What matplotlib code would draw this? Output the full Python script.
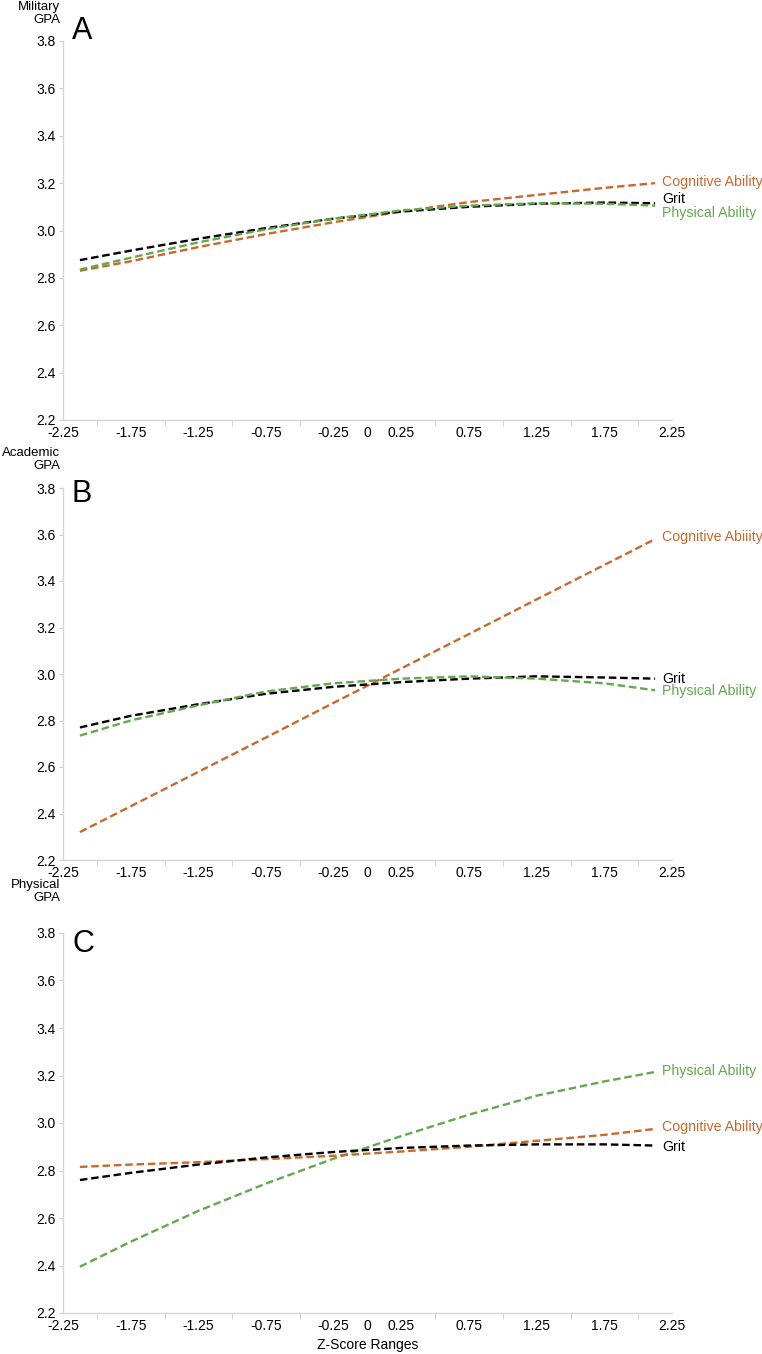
import numpy as np
import matplotlib
matplotlib.use('Agg')
import matplotlib.pyplot as plt

plt.rcParams['font.family'] = ['Liberation Sans', 'DejaVu Sans']

#%% Data
z_points = [-2.125, -1.75, -1.25, -0.75, -0.25, 0.25, 0.75, 1.25, 1.75, 2.125]

# A - Military GPA
cog_A  = [2.83, 2.87, 2.93, 2.985, 3.035, 3.08, 3.12, 3.15, 3.18, 3.20]
grit_A = [2.875, 2.915, 2.965, 3.01, 3.05, 3.08, 3.10, 3.113, 3.118, 3.115]
phys_A = [2.835, 2.885, 2.95, 3.005, 3.05, 3.085, 3.105, 3.115, 3.113, 3.105]

# B - Academic GPA
cog_B  = [2.32, 2.431, 2.579, 2.727, 2.876, 3.024, 3.172, 3.321, 3.469, 3.58]
grit_B = [2.77, 2.82, 2.87, 2.915, 2.945, 2.965, 2.98, 2.99, 2.985, 2.98]
phys_B = [2.735, 2.80, 2.865, 2.925, 2.96, 2.98, 2.99, 2.98, 2.96, 2.93]

# C - Physical GPA
cog_C  = [2.815, 2.825, 2.835, 2.848, 2.862, 2.88, 2.90, 2.925, 2.95, 2.975]
grit_C = [2.76, 2.79, 2.825, 2.855, 2.878, 2.895, 2.905, 2.91, 2.91, 2.905]
phys_C = [2.395, 2.50, 2.63, 2.745, 2.85, 2.945, 3.035, 3.115, 3.175, 3.215]

x_ticklabels = [-2.25, -1.75, -1.25, -0.75, -0.25, 0, 0.25, 0.75, 1.25, 1.75, 2.25]
x_tickmarks  = [-2.25, -2, -1.5, -1, -0.5, 0, 0.5, 1, 1.5, 2, 2.25]
y_ticks      = [2.2, 2.4, 2.6, 2.8, 3.0, 3.2, 3.4, 3.6, 3.8]

panels = [
    dict(letter='A', ylab='Military\nGPA',
         series=[(cog_A, 'Cognitive Ability', 3.205),
                 (grit_A, 'Grit', 3.135),
                 (phys_A, 'Physical Ability', 3.073)],
         top=41, bottom=420, ylab_y=1, let_y=39),
    dict(letter='B', ylab='Academic\nGPA',
         series=[(cog_B, 'Cognitive Abiiity', 3.59),
                 (grit_B, 'Grit', 2.978),
                 (phys_B, 'Physical Ability', 2.925)],
         top=488, bottom=860, ylab_y=447, let_y=502),
    dict(letter='C', ylab='Physical\nGPA',
         series=[(phys_C, 'Physical Ability', 3.22),
                 (cog_C, 'Cognitive Ability', 2.985),
                 (grit_C, 'Grit', 2.90)],
         top=933, bottom=1313, ylab_y=879, let_y=952),
]

colors = {'Cognitive': '#c8692b', 'Grit': '#000000', 'Physical': '#62a84c'}

#%% Figure
W, H = 762, 1354
fig = plt.figure(figsize=(W/100, H/100), dpi=100)
left, right = 63, 672

for p in panels:
    ax = fig.add_axes([left/W, 1 - p['bottom']/H, (right-left)/W, (p['bottom']-p['top'])/H])
    for vals, name, ylab in p['series']:
        c = colors[name.split()[0]]
        ax.plot(z_points, vals, color=c, lw=1.7, ls=(0, (3.2, 1.6)), dash_capstyle='butt')
        ax.text(2.175, ylab, name, color=c, fontsize=10.2, va='center', ha='left')

    ax.set_xlim(-2.25, 2.25)
    ax.set_ylim(2.2, 3.8)
    ax.set_xticks(x_ticklabels)
    ax.set_xticklabels(['%g' % v for v in x_ticklabels])
    ax.set_xticks(x_tickmarks, minor=True)
    ax.tick_params(axis='x', which='major', length=0, pad=4, labelsize=10)
    ax.tick_params(axis='x', which='minor', length=4, color='#cccccc', direction='out')
    ax.set_yticks(y_ticks)
    ax.set_yticklabels(['%.1f' % v for v in y_ticks])
    ax.tick_params(axis='y', length=3, color='#cccccc', labelsize=10, pad=2)
    for s in ['top', 'right']:
        ax.spines[s].set_visible(False)
    for s in ['left', 'bottom']:
        ax.spines[s].set_color('#d5d5d5')
        ax.spines[s].set_linewidth(1.0)

    fig.text(60/W, 1 - p['ylab_y']/H, p['ylab'], ha='right', va='top', fontsize=9.5, linespacing=1.15)
    fig.text(72/W, 1 - p['let_y']/H, p['letter'], ha='left', va='baseline', fontsize=22)

fig.text((left+right)/2/W, 1 - 1345/H, 'Z-Score Ranges', ha='center', va='center', fontsize=10)

fig.savefig('out.png', dpi=100)
